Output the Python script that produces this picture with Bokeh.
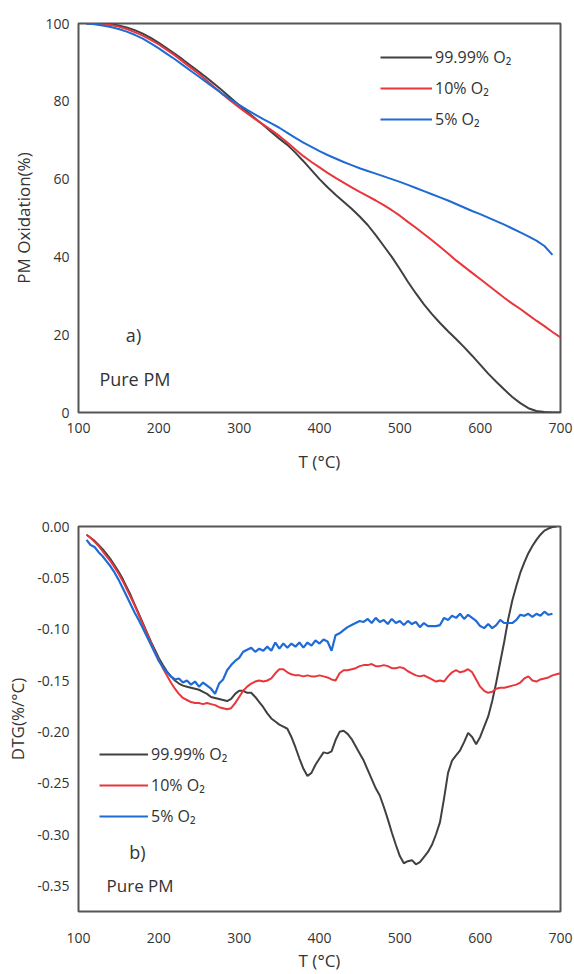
from bokeh.plotting import figure
from bokeh.layouts import column
from bokeh.models import Range1d, FixedTicker, PrintfTickFormatter, Label
from bokeh.embed import file_html
from bokeh.resources import INLINE

# ---------------- data: a) TGA ----------------
T_tga = list(range(110, 701, 10))
tga_9999 = [100.0, 100.0, 99.9, 99.8, 99.5, 99.0, 98.3, 97.4, 96.3, 95.0,
            93.6, 92.2, 90.7, 89.1, 87.6, 86.0, 84.3, 82.6, 80.8, 79.0,
            77.3, 75.6, 73.9, 72.1, 70.4, 68.8, 66.8, 64.6, 62.3, 60.0,
            57.9, 56.0, 54.2, 52.4, 50.4, 48.2, 45.6, 42.8, 40.0, 36.9,
            33.6, 30.6, 27.8, 25.3, 23.0, 20.9, 18.9, 16.8, 14.6, 12.3,
            10.0, 7.9, 5.9, 4.0, 2.4, 1.1, 0.4, 0.1, 0.0, 0.0]
tga_10 = [100.0, 99.9, 99.8, 99.6, 99.2, 98.6, 97.8, 96.9, 95.8, 94.6,
          93.2, 91.8, 90.2, 88.6, 87.0, 85.3, 83.5, 81.7, 80.0, 78.4,
          76.9, 75.4, 74.0, 72.6, 71.1, 69.4, 67.6, 65.9, 64.4, 63.0,
          61.6, 60.3, 59.1, 57.9, 56.7, 55.6, 54.5, 53.3, 52.0, 50.6,
          49.0, 47.5, 45.9, 44.3, 42.6, 40.9, 39.1, 37.5, 35.9, 34.3,
          32.7, 31.1, 29.5, 28.0, 26.6, 25.1, 23.6, 22.2, 20.7, 19.3]
T_tga5 = list(range(110, 691, 10))
tga_5 = [100.0, 99.8, 99.5, 99.1, 98.6, 97.9, 97.1, 96.1, 94.9, 93.6,
         92.2, 90.8, 89.3, 87.8, 86.3, 84.8, 83.3, 81.8, 80.4, 79.1,
         77.8, 76.6, 75.4, 74.3, 73.2, 71.9, 70.6, 69.4, 68.3, 67.2,
         66.2, 65.3, 64.4, 63.6, 62.8, 62.1, 61.4, 60.7, 60.0, 59.3,
         58.5, 57.7, 56.9, 56.1, 55.3, 54.5, 53.6, 52.7, 51.8, 51.0,
         50.1, 49.2, 48.3, 47.3, 46.3, 45.3, 44.2, 42.8, 40.5]

# ---------------- data: b) DTG ----------------
T_dtg = list(range(110, 701, 5))
dtg_9999 = [-0.008, -0.011, -0.014, -0.018, -0.022, -0.027, -0.032, -0.038, -0.044, -0.051,
            -0.059, -0.067, -0.076, -0.085, -0.094, -0.103, -0.112, -0.120, -0.128, -0.135,
            -0.141, -0.146, -0.150, -0.153, -0.155, -0.156, -0.157, -0.158, -0.159, -0.161,
            -0.163, -0.166, -0.167, -0.168, -0.169, -0.170, -0.168, -0.163, -0.160, -0.160,
            -0.162, -0.162, -0.166, -0.171, -0.176, -0.182, -0.187, -0.190, -0.193, -0.195,
            -0.197, -0.205, -0.215, -0.226, -0.236, -0.243, -0.240, -0.232, -0.226, -0.220,
            -0.221, -0.219, -0.208, -0.200, -0.199, -0.202, -0.207, -0.214, -0.221, -0.228,
            -0.237, -0.246, -0.255, -0.262, -0.273, -0.285, -0.298, -0.310, -0.321, -0.328,
            -0.326, -0.325, -0.329, -0.327, -0.322, -0.317, -0.310, -0.300, -0.288, -0.265,
            -0.240, -0.228, -0.223, -0.218, -0.210, -0.201, -0.205, -0.212, -0.205, -0.195,
            -0.185, -0.170, -0.152, -0.132, -0.112, -0.090, -0.072, -0.058, -0.045, -0.035,
            -0.026, -0.019, -0.013, -0.008, -0.004, -0.002, -0.0005, 0.0]
dtg_10 = [-0.008, -0.011, -0.015, -0.019, -0.024, -0.029, -0.034, -0.040, -0.046, -0.053,
          -0.061, -0.069, -0.077, -0.086, -0.095, -0.104, -0.113, -0.122, -0.130, -0.138,
          -0.145, -0.152, -0.158, -0.163, -0.167, -0.169, -0.171, -0.172, -0.172, -0.173,
          -0.172, -0.173, -0.174, -0.176, -0.177, -0.178, -0.177, -0.172, -0.166, -0.160,
          -0.156, -0.153, -0.151, -0.150, -0.151, -0.150, -0.148, -0.143, -0.139, -0.139,
          -0.142, -0.144, -0.145, -0.145, -0.146, -0.145, -0.146, -0.146, -0.145, -0.146,
          -0.147, -0.149, -0.150, -0.143, -0.140, -0.140, -0.139, -0.138, -0.136, -0.135,
          -0.135, -0.134, -0.136, -0.136, -0.135, -0.136, -0.138, -0.138, -0.137, -0.138,
          -0.141, -0.143, -0.145, -0.146, -0.145, -0.147, -0.149, -0.151, -0.150, -0.151,
          -0.146, -0.142, -0.140, -0.142, -0.141, -0.139, -0.142, -0.149, -0.156, -0.160,
          -0.162, -0.161, -0.158, -0.157, -0.157, -0.156, -0.155, -0.154, -0.152, -0.148,
          -0.146, -0.150, -0.151, -0.149, -0.148, -0.147, -0.145, -0.144, -0.143]
T_dtg5 = list(range(110, 691, 5))
dtg_5 = [-0.013, -0.018, -0.020, -0.025, -0.029, -0.034, -0.039, -0.045, -0.052, -0.060,
         -0.068, -0.076, -0.084, -0.091, -0.099, -0.107, -0.115, -0.123, -0.131, -0.137,
         -0.142, -0.146, -0.149, -0.148, -0.152, -0.150, -0.154, -0.151, -0.156, -0.152,
         -0.155, -0.158, -0.163, -0.153, -0.149, -0.140, -0.135, -0.131, -0.128, -0.122,
         -0.120, -0.118, -0.122, -0.119, -0.121, -0.117, -0.121, -0.113, -0.119, -0.114,
         -0.118, -0.114, -0.117, -0.113, -0.118, -0.113, -0.116, -0.111, -0.114, -0.110,
         -0.112, -0.121, -0.106, -0.104, -0.101, -0.098, -0.096, -0.094, -0.092, -0.093,
         -0.090, -0.094, -0.089, -0.093, -0.091, -0.095, -0.090, -0.094, -0.092, -0.096,
         -0.092, -0.095, -0.093, -0.098, -0.094, -0.097, -0.097, -0.097, -0.096, -0.089,
         -0.091, -0.087, -0.089, -0.085, -0.090, -0.086, -0.089, -0.092, -0.097, -0.099,
         -0.095, -0.099, -0.096, -0.091, -0.094, -0.094, -0.094, -0.091, -0.086, -0.087,
         -0.085, -0.088, -0.085, -0.087, -0.083, -0.086, -0.085]

x_ticks = [100, 200, 300, 400, 500, 600, 700]
tga_ticks = [0, 20, 40, 60, 80, 100]
dtg_ticks = [0.0, -0.05, -0.10, -0.15, -0.20, -0.25, -0.30, -0.35]
labels = ["99.99% O\u2082", "10% O\u2082", "5% O\u2082"]

C_BLACK = "#404040"
C_RED = "#e8363c"
C_BLUE = "#1f6bd6"
FONT = "Open Sans"
TXT = "#333333"
FRAME = "#555555"


def style(p):
    p.background_fill_color = "white"
    p.border_fill_color = "white"
    p.outline_line_color = FRAME
    p.outline_line_width = 2
    p.xgrid.visible = False
    p.ygrid.visible = False
    for ax in (p.xaxis[0], p.yaxis[0]):
        ax.axis_line_color = None
        ax.major_tick_line_color = None
        ax.minor_tick_line_color = None
        ax.major_tick_out = 0
        ax.major_tick_in = 0
        ax.minor_tick_out = 0
        ax.major_label_text_font = FONT
        ax.major_label_text_font_size = "14px"
        ax.major_label_text_color = TXT
        ax.axis_label_text_font = FONT
        ax.axis_label_text_font_size = "17px"
        ax.axis_label_text_font_style = "normal"
        ax.axis_label_text_color = TXT


def style_legend(lg, loc, gw):
    lg.location = loc
    lg.padding = 0
    lg.margin = 0
    lg.spacing = 9
    lg.label_height = 20
    lg.glyph_height = 20
    lg.glyph_width = gw
    lg.label_standoff = 3
    lg.border_line_color = None
    lg.background_fill_alpha = 0
    lg.label_text_font = FONT
    lg.label_text_font_size = "16px"
    lg.label_text_color = TXT


# ---------------- figure a ----------------
p1 = figure(width=574, height=476, output_backend="svg", toolbar_location=None,
            x_range=Range1d(100, 700), y_range=Range1d(0, 100),
            min_border_left=78, min_border_right=14, min_border_top=23, min_border_bottom=64)
style(p1)
p1.xaxis.ticker = FixedTicker(ticks=x_ticks)
p1.yaxis.ticker = FixedTicker(ticks=tga_ticks)
p1.xaxis.axis_label = "T (\u00b0C)"
p1.yaxis.axis_label = "PM Oxidation(%)"
p1.xaxis.major_label_standoff = 10
p1.xaxis.axis_label_standoff = 14
p1.yaxis.major_label_standoff = 9
p1.yaxis.axis_label_standoff = 7

p1.line(T_tga, tga_9999, line_color=C_BLACK, line_width=2, legend_label=labels[0])
p1.line(T_tga, tga_10, line_color=C_RED, line_width=2, legend_label=labels[1])
p1.line(T_tga5, tga_5, line_color=C_BLUE, line_width=2, legend_label=labels[2])
style_legend(p1.legend[0], (302, 282), 52)

p1.add_layout(Label(x=168.5, y=20, text="a)", text_align="center", text_baseline="middle",
                    text_font=FONT, text_font_size="18px", text_color=TXT))
p1.add_layout(Label(x=126, y=8.7, text="Pure PM", text_align="left", text_baseline="middle",
                    text_font=FONT, text_font_size="18px", text_color=TXT))

# ---------------- figure b ----------------
p2 = figure(width=574, height=498, output_backend="svg", toolbar_location=None,
            x_range=Range1d(100, 700), y_range=Range1d(-0.375, 0),
            min_border_left=78, min_border_right=14, min_border_top=50, min_border_bottom=61)
style(p2)
p2.xaxis.ticker = FixedTicker(ticks=x_ticks)
p2.yaxis.ticker = FixedTicker(ticks=dtg_ticks)
p2.yaxis.formatter = PrintfTickFormatter(format="%.2f")
p2.xaxis.axis_label = "T (\u00b0C)"
p2.yaxis.axis_label = "DTG(%/\u00b0C)"
p2.xaxis.major_label_standoff = 21
p2.xaxis.axis_label_standoff = 3
p2.yaxis.major_label_standoff = 9
p2.yaxis.axis_label_standoff = 5

p2.line(T_dtg, dtg_9999, line_color=C_BLACK, line_width=2, legend_label=labels[0])
p2.line(T_dtg, dtg_10, line_color=C_RED, line_width=2, legend_label=labels[1])
p2.line(T_dtg5, dtg_5, line_color=C_BLUE, line_width=2.2, legend_label=labels[2])
style_legend(p2.legend[0], (21, 84), 49)

p2.add_layout(Label(x=173.4, y=-0.317, text="b)", text_align="center", text_baseline="middle",
                    text_font=FONT, text_font_size="18px", text_color=TXT))
p2.add_layout(Label(x=134.9, y=-0.350, text="Pure PM", text_align="left", text_baseline="middle",
                    text_font=FONT, text_font_size="17px", text_color=TXT))

layout = column(p1, p2, spacing=0)
open("out.html", "w").write(file_html(layout, INLINE))
